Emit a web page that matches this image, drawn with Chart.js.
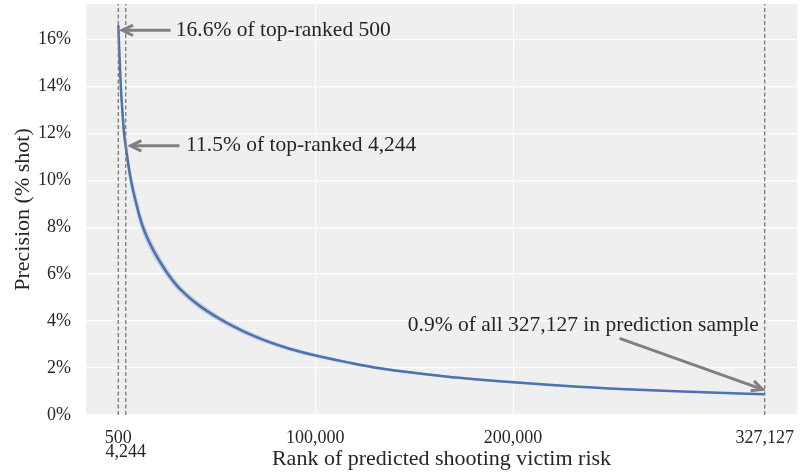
<!DOCTYPE html>
<html>
<head>
<meta charset="utf-8">
<script src="https://cdn.jsdelivr.net/npm/chart.js@4"></script>
<style>
  html, body { margin: 0; background: #fff; }
  #wrap { width: 800px; height: 472px; }
</style>
</head>
<body>
<div id="wrap"><canvas id="chart"></canvas></div>
<script>
// precision curve (rank -> % shot)
const ranks = [500, 1000, 1760, 2500, 3400, 4244, 5500, 6780, 8000, 9300, 11000, 12660,
  15000, 18500, 21500, 25200, 30000, 34000, 37800, 41960, 46000, 52000, 58700, 67100,
  75500, 87000, 100250, 117300, 132400, 142500, 165900, 200250, 233000, 266400, 299900,
  327127];
const precision = [16.6, 15.5, 14.0, 13.0, 12.0, 11.45, 10.7, 10.05, 9.55, 9.1, 8.53, 8.07,
  7.57, 6.97, 6.535, 6.05, 5.52, 5.18, 4.895, 4.625, 4.39, 4.08, 3.77, 3.43,
  3.145, 2.82, 2.53, 2.23, 1.99, 1.87, 1.64, 1.39, 1.2, 1.06, 0.96,
  0.88];

// confidence band around the curve
const bandRanks = [500, 1760, 3400, 4244, 5500, 6780, 9300, 12660, 15000, 18500, 21500,
  25200, 30000, 37800, 41960, 52000, 58700, 67100, 75500, 87000, 100250, 132400, 165900,
  200250, 233000, 266400, 327127];
const bandLower = [16.0, 13.5, 11.55, 11.0, 10.28, 9.65, 8.73, 7.74, 7.27, 6.7, 6.3,
  5.84, 5.34, 4.735, 4.475, 3.95, 3.65, 3.32, 3.045, 2.73, 2.45, 1.93, 1.59,
  1.345, 1.16, 1.025, 0.85];
const bandUpper = [17.2, 14.5, 12.45, 11.9, 11.12, 10.45, 9.47, 8.4, 7.87, 7.24, 6.77,
  6.26, 5.7, 5.055, 4.775, 4.21, 3.89, 3.54, 3.245, 2.91, 2.61, 2.05, 1.69,
  1.435, 1.24, 1.095, 0.91];

const xTicks = [500, 4244, 100000, 200000, 327127];
const xTickLabels = ['500', ['', '4,244'], '100,000', '200,000', '327,127'];
const xGridAt = [100000, 200000];
const yTicks = [0, 2, 4, 6, 8, 10, 12, 14, 16];
const markerRanks = [500, 4244, 327127];

const annotations = [
  { text: '16.6% of top-ranked 500', tip: [2470, 16.38], tail: [26900, 16.38], at: [29550, 16.38], align: 'left' },
  { text: '11.5% of top-ranked 4,244', tip: [6700, 11.46], tail: [31400, 11.46], at: [34750, 11.46], align: 'left' },
  { text: '0.9% of all 327,127 in prediction sample', tip: [326000, 1.09], tail: [253800, 3.26], at: [235500, 3.82], align: 'center' }
];

const FONT = "'Liberation Serif', 'Times New Roman', serif";
const GREY = '#808080';

const xy = (xs, ys) => xs.map((x, i) => ({ x: x, y: ys[i] }));

const markerSets = markerRanks.map(r => ({
  data: [{ x: r, y: 0 }, { x: r, y: 17.5 }],
  borderColor: GREY,
  borderWidth: 1.4,
  borderDash: [4, 2.5],
  pointRadius: 0,
  fill: false,
  order: 1
}));

const plotBg = {
  id: 'plotBg',
  beforeDraw(chart) {
    const a = chart.chartArea, ctx = chart.ctx;
    ctx.save();
    ctx.fillStyle = '#efefef';
    ctx.fillRect(a.left, a.top, a.right - a.left, a.bottom - a.top);
    ctx.restore();
  }
};

const arrows = {
  id: 'arrows',
  afterDatasetsDraw(chart) {
    const ctx = chart.ctx, sx = chart.scales.x, sy = chart.scales.y;
    ctx.save();
    annotations.forEach(a => {
      const tx = sx.getPixelForValue(a.tip[0]), ty = sy.getPixelForValue(a.tip[1]);
      const bx = sx.getPixelForValue(a.tail[0]), by = sy.getPixelForValue(a.tail[1]);
      const ang = Math.atan2(ty - by, tx - bx);
      ctx.strokeStyle = GREY;
      ctx.lineWidth = 3;
      ctx.lineCap = 'butt';
      ctx.beginPath();
      ctx.moveTo(bx, by);
      ctx.lineTo(tx - Math.cos(ang) * 1.5, ty - Math.sin(ang) * 1.5);
      ctx.stroke();
      // arrow head
      const hl = 12, spread = 0.45;
      ctx.lineJoin = 'miter';
      ctx.beginPath();
      ctx.moveTo(tx - hl * Math.cos(ang - spread), ty - hl * Math.sin(ang - spread));
      ctx.lineTo(tx, ty);
      ctx.lineTo(tx - hl * Math.cos(ang + spread), ty - hl * Math.sin(ang + spread));
      ctx.stroke();

      ctx.fillStyle = '#262626';
      ctx.font = '21.5px ' + FONT;
      ctx.textAlign = a.align;
      ctx.textBaseline = 'middle';
      ctx.fillText(a.text, sx.getPixelForValue(a.at[0]), sy.getPixelForValue(a.at[1]));
    });
    ctx.restore();
  }
};

new Chart(document.getElementById('chart'), {
  type: 'line',
  data: {
    datasets: [
      {
        data: xy(bandRanks, bandLower),
        borderWidth: 0,
        pointRadius: 0,
        fill: false,
        cubicInterpolationMode: 'monotone',
        order: 3
      },
      {
        data: xy(bandRanks, bandUpper),
        borderWidth: 0,
        pointRadius: 0,
        backgroundColor: 'rgba(76, 114, 176, 0.25)',
        fill: '-1',
        cubicInterpolationMode: 'monotone',
        order: 3
      },
      {
        data: xy(ranks, precision),
        borderColor: '#4c72b0',
        borderWidth: 2.5,
        pointRadius: 0,
        fill: false,
        cubicInterpolationMode: 'monotone',
        order: 2
      },
      ...markerSets
    ]
  },
  options: {
    responsive: true,
    maintainAspectRatio: false,
    animation: false,
    layout: { padding: { top: 4, right: 3, left: 0, bottom: 0 } },
    plugins: {
      legend: { display: false },
      tooltip: { enabled: false }
    },
    scales: {
      x: {
        type: 'linear',
        min: -15831,
        max: 343458,
        afterBuildTicks: s => { s.ticks = xTicks.map(v => ({ value: v })); },
        afterFit: s => { s.height = 57; s.paddingLeft = 0; s.paddingRight = 0; },
        border: { display: false },
        grid: {
          drawTicks: false,
          color: c => xGridAt.includes(c.tick && c.tick.value) ? '#ffffff' : 'rgba(0,0,0,0)',
          lineWidth: 1.2
        },
        ticks: {
          autoSkip: false,
          maxRotation: 0,
          padding: 16,
          color: '#262626',
          font: { family: FONT, size: 18, lineHeight: 0.8 },
          callback: v => xTickLabels[xTicks.indexOf(v)]
        },
        title: {
          display: true,
          text: 'Rank of predicted shooting victim risk',
          color: '#262626',
          font: { family: FONT, size: 22 },
          padding: { top: 0, bottom: 0 }
        }
      },
      y: {
        min: 0,
        max: 17.5,
        afterBuildTicks: s => { s.ticks = yTicks.map(v => ({ value: v })); },
        afterFit: s => { s.width = 86; s.paddingTop = 0; s.paddingBottom = 0; },
        border: { display: false },
        grid: { drawTicks: false, color: '#ffffff', lineWidth: 1.2 },
        ticks: {
          padding: 15,
          color: '#262626',
          font: { family: FONT, size: 18 },
          callback: v => v + '%'
        },
        title: {
          display: true,
          text: 'Precision (% shot)',
          color: '#262626',
          font: { family: FONT, size: 22 },
          padding: { top: 10, bottom: 0 }
        }
      }
    }
  },
  plugins: [plotBg, arrows]
});
</script>
</body>
</html>
